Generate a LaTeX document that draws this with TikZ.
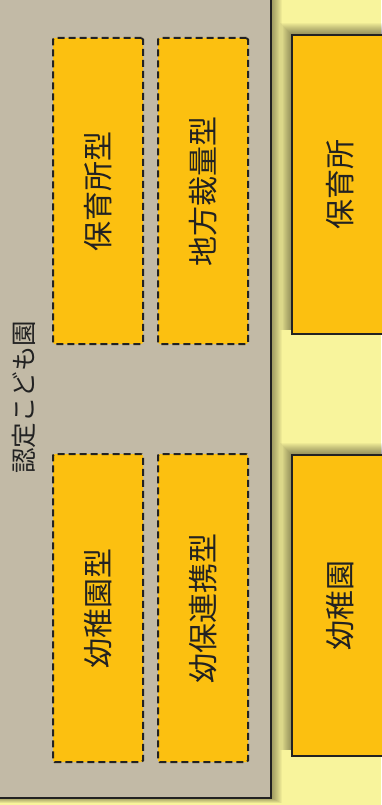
\documentclass[tikz,border=0pt]{standalone}
\usepackage{fontspec}
\newfontfamily\cjk{Noto Sans CJK JP}
\definecolor{bg}{HTML}{F8F49C}
\definecolor{graybg}{HTML}{C2BAA6}
\definecolor{amber}{HTML}{FCC010}
\definecolor{linec}{HTML}{222222}
\begin{document}
\begin{tikzpicture}[x=1pt,y=-1pt,
  outerbox/.style={draw=linec, line width=2pt, fill=graybg, inner sep=0pt, anchor=north west},
  typebox/.style={draw=linec, line width=2pt, fill=amber, inner sep=0pt, rounded corners=1.5pt,
                  dash pattern=on 7pt off 4pt, minimum width=90pt},
  facbox/.style={draw=linec, line width=2pt, fill=amber, inner sep=0pt, minimum width=96pt},
  vtext/.style={rotate=90, text=linec, inner sep=0pt, font=\cjk\fontsize{30}{30}\selectfont},
  ltext/.style={rotate=90, text=linec, inner sep=0pt, font=\cjk\fontsize{25.5}{25.5}\selectfont},
  shadowlayer/.style={fill=black, opacity=0.04}]
\useasboundingbox (0,0) rectangle (381,805);
\fill[bg] (0,0) rectangle (381,805);
% shadows
\foreach \i in {1,...,12} {
  \fill[shadowlayer] (-10,-10) rectangle (270+\i,797+\i/2);
  \fill[shadowlayer] (292-\i,35-\i) rectangle (400,330);
  \fill[shadowlayer] (292-\i,455-\i) rectangle (400,750);
}
% outer grey box
\node[outerbox, minimum width=280pt, minimum height=807pt] (kodomo) at (-10,-10) {};
\node[ltext] (kodomolabel) at (24,397) {認定こども園};
% inner type boxes
\node[typebox, minimum height=306pt] (hoikutype) at (98,191) {};
\node[typebox, minimum height=306pt] (chihotype) at (203,191) {};
\node[typebox, minimum height=308pt] (yochitype) at (98,608) {};
\node[typebox, minimum height=308pt] (renkeitype) at (203,608) {};
\node[vtext] (hoikutypetxt) at (hoikutype.center) {保育所型};
\node[vtext] (chihotypetxt) at (chihotype.center) {地方裁量型};
\node[vtext] (yochitypetxt) at (yochitype.center) {幼稚園型};
\node[vtext] (renkeitypetxt) at (renkeitype.center) {幼保連携型};
% right facility boxes
\node[facbox, minimum height=299pt] (hoikusho) at (340,184.5) {};
\node[facbox, minimum height=301pt] (yochien) at (340,605.5) {};
\node[vtext] (hoikushotxt) at (hoikusho.center) {保育所};
\node[vtext] (yochientxt) at (yochien.center) {幼稚園};
\end{tikzpicture}
\end{document}
